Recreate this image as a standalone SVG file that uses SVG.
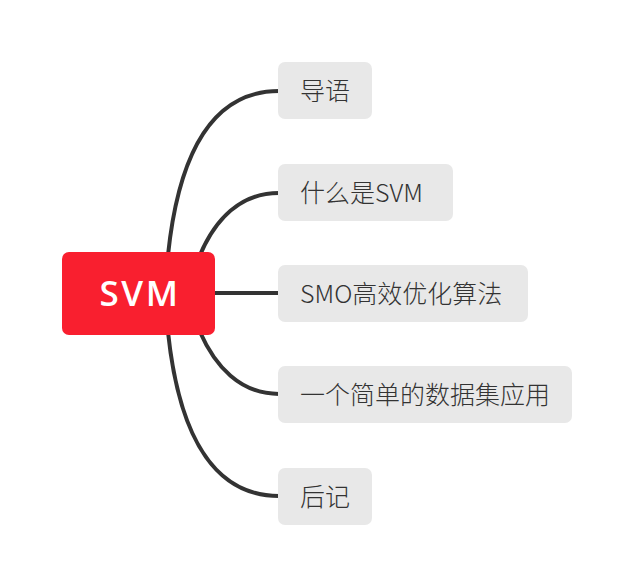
<svg xmlns="http://www.w3.org/2000/svg" width="635" height="587" viewBox="0 0 635 587">
<style>
.conn{fill:none;stroke:#333333;stroke-width:4;stroke-linecap:butt}
.box{fill:#E8E8E8}
.lbl{font-family:"Noto Sans CJK SC","Noto Sans",sans-serif;font-size:25px;font-weight:300;fill:#333333}
.root{fill:#F91F2F}
.rootlbl{font-family:"Open Sans","Noto Sans",sans-serif;font-size:35px;font-weight:600;fill:#FFFFFF;letter-spacing:2.5px}
</style>
<rect width="635" height="587" fill="#FFFFFF"/>
<g id="connectors">
<path class="conn" d="M168 255 C180 140 220 91 279 91"/>
<path class="conn" d="M200 255 C215 220 240 193 279 193"/>
<path class="conn" d="M212 293 L279 293"/>
<path class="conn" d="M200 332 C215 366 240 394 279 394"/>
<path class="conn" d="M168 332 C180 446 220 496 279 496"/>
</g>
<g id="root">
<rect class="root" x="62" y="252" width="153" height="83" rx="7"/>
<text class="rootlbl" x="140" y="306" text-anchor="middle">SVM</text>
</g>
<g id="n1">
<rect class="box" x="278" y="62" width="94" height="57" rx="7"/>
<text class="lbl" x="300" y="100">导语</text>
</g>
<g id="n2">
<rect class="box" x="278" y="164" width="175" height="57" rx="7"/>
<text class="lbl" x="300" y="202">什么是SVM</text>
</g>
<g id="n3">
<rect class="box" x="278" y="265" width="250" height="57" rx="7"/>
<text class="lbl" x="300" y="303">SMO高效优化算法</text>
</g>
<g id="n4">
<rect class="box" x="278" y="366" width="294" height="57" rx="7"/>
<text class="lbl" x="300" y="404">一个简单的数据集应用</text>
</g>
<g id="n5">
<rect class="box" x="278" y="468" width="94" height="57" rx="7"/>
<text class="lbl" x="300" y="506">后记</text>
</g>
</svg>
